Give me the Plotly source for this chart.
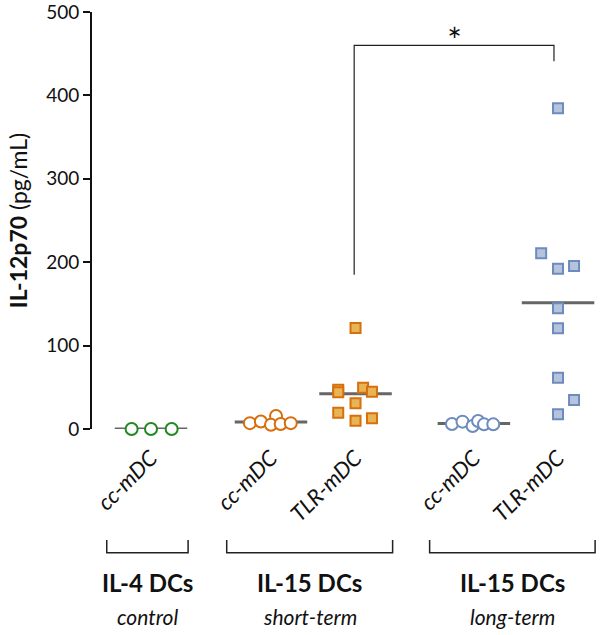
import plotly.graph_objects as go
import numpy as np

# ---- data ----
categories = ["cc-mDC", "cc-mDC", "TLR-mDC", "cc-mDC", "TLR-mDC"]
group_labels = ["IL-4 DCs", "IL-15 DCs", "IL-15 DCs"]
group_sub = ["control", "short-term", "long-term"]

il4_cc = [0, 0, 0]
st_cc = [7, 9, 15.5, 5, 6, 7]
st_tlr = [47, 44, 49.5, 44.7, 31, 19.6, 10, 12.8, 121]
lt_cc = [6, 8.8, 3.6, 9.6, 5.6, 5.6]
lt_tlr = [384.5, 210.7, 192, 195.4, 144.7, 120.7, 61.5, 34.8, 17.6]

y_ticks = [0, 100, 200, 300, 400, 500]

# ---- layout helpers (positions / jitter) ----
pos = [0, 1.423, 2.426, 3.83, 4.828]
jit = [
    [-0.23, 0, 0.245],
    [-0.25, -0.12, 0.06, 0, 0.115, 0.235],
    [-0.205, -0.205, 0.09, 0.195, 0, -0.205, 0, 0.195, 0],
    [-0.26, -0.135, -0.015, 0.05, 0.12, 0.23],
    [0, -0.2, 0, 0.19, 0, 0, 0, 0.19, 0],
]
series = [il4_cc, st_cc, st_tlr, lt_cc, lt_tlr]
styles = [
    dict(symbol="circle", size=12, color="white", line=dict(color="#1F8A1F", width=2)),
    dict(symbol="circle", size=12, color="white", line=dict(color="#D96D0C", width=2)),
    dict(symbol="square", size=10, color="#E8B455", line=dict(color="#D6700E", width=2)),
    dict(symbol="circle", size=12, color="white", line=dict(color="#6E8BBE", width=2)),
    dict(symbol="square", size=10, color="#B5C3DD", line=dict(color="#6E8BBE", width=2)),
]

FONT = "Lato"
fig = go.Figure()

# mean lines
for p, vals in zip(pos, series):
    m = float(np.mean(vals))
    fig.add_trace(go.Scatter(x=[p - 0.43, p + 0.43], y=[m, m], mode="lines",
                             line=dict(color="#666666", width=3), hoverinfo="skip",
                             showlegend=False, cliponaxis=False))

# points
for p, vals, j, st in zip(pos, series, jit, styles):
    fig.add_trace(go.Scatter(x=[p + o for o in j], y=vals, mode="markers",
                             marker=st, showlegend=False, cliponaxis=False))

# significance bracket
xl, xr = 2.41, 4.78
ytop = 460
fig.add_shape(type="path", path=f"M {xl},185 L {xl},{ytop} L {xr},{ytop} L {xr},441",
              line=dict(color="#222222", width=1.2), xref="x", yref="y")
fig.add_annotation(x=(xl + xr) / 2 + 0.01, y=477, text="∗", showarrow=False,
                   font=dict(family="DejaVu Sans", size=18, color="#111"), xref="x", yref="y")

# group brackets
groups_idx = [(0, 0), (1, 2), (3, 4)]
yb_top, yb_bot = -0.266, -0.297
for (a, b), lab, sub in zip(groups_idx, group_labels, group_sub):
    x0 = pos[a] - 0.525
    x1 = pos[b] + 0.44
    fig.add_shape(type="path",
                  path=f"M {x0},{yb_top} L {x0},{yb_bot} L {x1},{yb_bot} L {x1},{yb_top}",
                  xref="x", yref="paper", line=dict(color="#222222", width=1.5))
    cx = (x0 + x1) / 2
    fig.add_annotation(x=cx, y=-0.408, xref="x", yref="paper", text=f"<b>{lab}</b>",
                       showarrow=False, font=dict(family=FONT, size=24, color="#111"))
    fig.add_annotation(x=cx, y=-0.484, xref="x", yref="paper", text=f"<i>{sub}</i>",
                       showarrow=False, font=dict(family=FONT, size=21, color="#111"))

fig.update_layout(
    width=600, height=635,
    margin=dict(l=92, r=0, t=12, b=206),
    plot_bgcolor="white", paper_bgcolor="white",
    font=dict(family=FONT, color="#111"),
    xaxis=dict(range=[-0.70, 5.326], showgrid=False, zeroline=False, showline=False,
               tickvals=pos, ticktext=[f"<i>{c}</i>" for c in categories],
               tickangle=-45, ticks="", ticklabelstandoff=11,
               tickfont=dict(family=FONT, size=22, color="#111")),
    yaxis=dict(range=[0, 500], tickvals=y_ticks, showgrid=False, zeroline=False,
               showline=True, linecolor="#111", linewidth=2,
               ticks="outside", ticklen=7, tickwidth=1.5, tickcolor="#111",
               ticklabeloverflow="allow",
               tickfont=dict(family=FONT, size=19, color="#111"),
               title=dict(text="<b>IL-12p70</b> <span style='font-size:23px'>(pg/mL)</span>",
                          standoff=12,
                          font=dict(family=FONT, size=23, color="#111"))),
)

fig.write_html("out.html", config={"displayModeBar": False},
               post_script="document.body.style.margin='0px';")
